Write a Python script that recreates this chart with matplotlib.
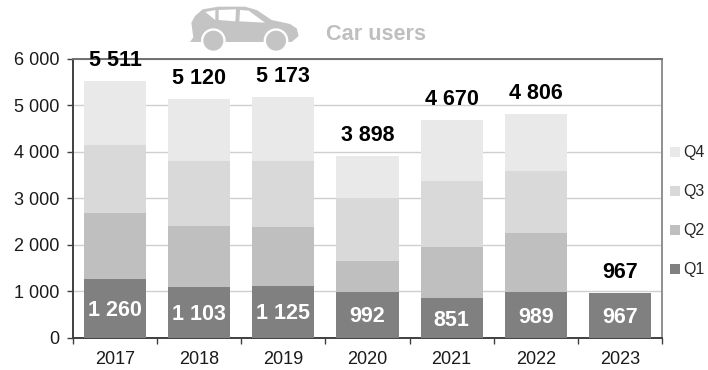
import matplotlib
matplotlib.use("Agg")
import matplotlib.pyplot as plt
from matplotlib.patches import PathPatch, Circle, Polygon
from matplotlib.path import Path
from matplotlib.transforms import Affine2D

plt.rcParams['font.family'] = ['Liberation Sans', 'DejaVu Sans']

years = ['2017', '2018', '2019', '2020', '2021', '2022', '2023']
q1 = [1260, 1103, 1125, 992, 851, 989, 967]
q2 = [1430, 1307, 1265, 668, 1099, 1271, 0]
q3 = [1450, 1380, 1400, 1350, 1430, 1320, 0]
q4 = [1371, 1330, 1383, 888, 1290, 1226, 0]
totals = [5511, 5120, 5173, 3898, 4670, 4806, 967]
y_ticks = [0, 1000, 2000, 3000, 4000, 5000, 6000]
quarter_names = ['Q1', 'Q2', 'Q3', 'Q4']
quarter_colors = ['#808080', '#bfbfbf', '#d9d9d9', '#e9e9e9']


def spaced(n):
    return f'{n:,}'.replace(',', ' ')


W, H = 708, 370
fig = plt.figure(figsize=(W / 100, H / 100), dpi=100)
ax = fig.add_axes([73 / W, 1 - 338 / H, (662 - 73) / W, (338 - 58.5) / H])

x = list(range(len(years)))
bottom = [0] * len(years)
handles = []
for vals, name, col in zip([q1, q2, q3, q4], quarter_names, quarter_colors):
    bars = ax.bar(x, vals, 0.74, bottom=bottom, color=col, label=name, zorder=3)
    handles.append(bars)
    bottom = [b + v for b, v in zip(bottom, vals)]

for i, (v, t) in enumerate(zip(q1, totals)):
    ax.annotate(spaced(v), (i, v / 2), xytext=(0, -1.5), textcoords='offset points',
                ha='center', va='center', color='white', fontsize=15.5,
                fontweight='bold', zorder=5)
    ax.annotate(spaced(t), (i, t), xytext=(0, 20.5 * 0.72), textcoords='offset points',
                ha='center', va='center', color='black', fontsize=15.5,
                fontweight='bold', zorder=6, annotation_clip=False)

ax.set_xlim(-0.5, len(years) - 0.5)
ax.set_ylim(0, 6000)
ax.set_yticks(y_ticks)
ax.set_yticklabels([spaced(v) for v in y_ticks], fontsize=13, color='#1a1a1a')
ax.set_xticks([i - 0.5 for i in range(len(years) + 1)])
ax.set_xticklabels([])
ax.set_xticks(x, minor=True)
ax.set_xticklabels(years, minor=True, fontsize=13, color='#1a1a1a')
ax.tick_params(axis='x', which='minor', length=0, pad=9.5)
ax.tick_params(axis='x', which='major', length=4, width=1, color='#404040')
ax.tick_params(axis='y', length=4, width=1, color='#404040', pad=6)
ax.grid(axis='y', color='#cfcfcf', lw=1, zorder=0)
ax.set_axisbelow(True)
for side, col, lw in [('left', '#404040', 1.4), ('bottom', '#404040', 1.4),
                      ('top', '#707070', 1.4), ('right', '#909090', 1.4)]:
    ax.spines[side].set_color(col)
    ax.spines[side].set_linewidth(lw)

leg = ax.legend(handles[::-1], quarter_names[::-1], loc='upper left',
                bbox_to_anchor=(670 / W, 1 - 145.5 / H), bbox_transform=fig.transFigure,
                frameon=False, fontsize=11.5, handlelength=0.6, handleheight=0.6,
                handletextpad=0.25, labelspacing=1.5, borderpad=0, borderaxespad=0)
for t in leg.get_texts():
    t.set_color('#262626')

# Car pictogram, outlined in pixel units with the y axis pointing down
car_color = '#c4c4c4'
to_fig = Affine2D().scale(1 / 3, -1 / 3).translate(150, H) + Affine2D().scale(1 / W, 1 / H) + fig.transFigure
body = [(128, 98), (124, 68), (135, 48), (158, 28), (205, 20), (285, 20), (320, 30),
        (365, 60), (420, 72), (440, 85), (446, 108), (425, 126), (120, 126), (130, 112)]
fig.add_artist(PathPatch(Path(body + [body[0]], closed=True), fc=car_color, ec='none', transform=to_fig))
windows = [[(166, 36), (196, 30), (196, 60)],
           [(206, 30), (258, 28), (256, 64), (206, 60)],
           [(270, 30), (296, 32), (345, 68), (268, 64)]]
for w in windows:
    fig.add_artist(Polygon(w, closed=True, fc='white', ec='none', transform=to_fig))
for cx in (190, 378):
    fig.add_artist(Circle((cx, 122), 37, fc='white', ec='none', transform=to_fig))
    fig.add_artist(Circle((cx, 122), 30, fc=car_color, ec='none', transform=to_fig))

fig.text(376 / W, 1 - 34.5 / H, 'Car users', ha='center', va='center',
         fontsize=15.6, fontweight='bold', color='#bfbfbf')

fig.savefig('out.png', dpi=100)
